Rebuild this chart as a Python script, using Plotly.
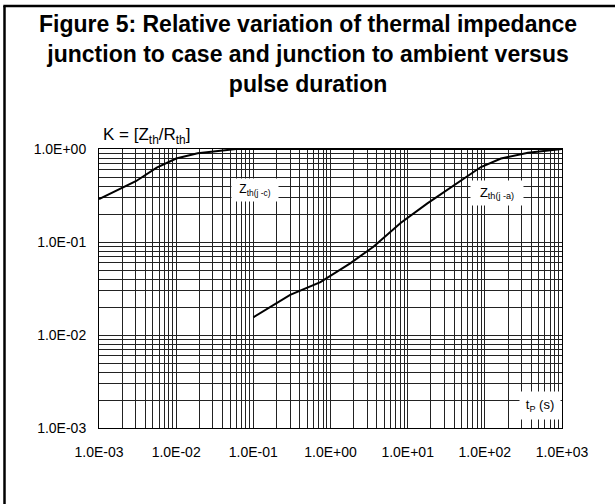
import plotly.graph_objects as go

# ---- data ----
jc_t = [1e-3, 1.7e-3, 3e-3, 5.6e-3, 1.0e-2, 1.9e-2, 4e-2, 6e-2, 1e3]
jc_k = [0.29, 0.36, 0.45, 0.63, 0.79, 0.90, 0.975, 1.0, 1.0]

ja_t = [0.1, 0.3, 0.74, 1.8, 3.6, 8.1, 18, 40, 89, 162, 363, 1000]
ja_k = [0.0155, 0.027, 0.037, 0.059, 0.089, 0.16, 0.26, 0.41, 0.64, 0.79, 0.91, 1.0]

x_tickvals = [1e-3, 1e-2, 1e-1, 1e0, 1e1, 1e2, 1e3]
x_ticktext = ["1.0E-03", "1.0E-02", "1.0E-01", "1.0E+00", "1.0E+01", "1.0E+02", "1.0E+03"]
y_tickvals = [1e-3, 1e-2, 1e-1, 1e0]
y_ticktext = ["1.0E-03", "1.0E-02", "1.0E-01", "1.0E+00"]

title_lines = ["Figure 5: Relative variation of thermal impedance",
               "junction to case and junction to ambient versus",
               "pulse duration"]

FONT = "Liberation Sans, Arial, sans-serif"
GRID = "#222222"

fig = go.Figure()
fig.add_trace(go.Scatter(x=jc_t, y=jc_k, mode="lines",
                         line=dict(color="black", width=2), showlegend=False))
fig.add_trace(go.Scatter(x=ja_t, y=ja_k, mode="lines",
                         line=dict(color="black", width=2), showlegend=False))

axis_common = dict(
    type="log", showline=True, linecolor="black", linewidth=1, mirror=True,
    showgrid=True, gridcolor=GRID, gridwidth=1, ticks="", zeroline=False,
    tickfont=dict(family=FONT, size=14, color="black"),
    minor=dict(showgrid=True, gridcolor=GRID, gridwidth=1, dtick="D1", ticks=""),
)
fig.update_xaxes(range=[-3, 3], tickvals=x_tickvals, ticktext=x_ticktext,
                 ticklabelstandoff=11, **axis_common)
fig.update_yaxes(range=[-3, 0], tickvals=y_tickvals, ticktext=y_ticktext,
                 ticklabelstandoff=9, **axis_common)

W, H = 615, 504
L, R, T, B = 99, 53, 149, 76
pw, ph = W - L - R, H - T - B

def px(xp):
    return (xp - L) / pw

def py(yp):
    return (H - B - yp) / ph

# outer frame (left and top edges)
fig.add_shape(type="line", xref="paper", yref="paper",
              x0=px(4.5), x1=px(4.5), y0=py(6), y1=py(H + 5),
              line=dict(color="black", width=2.5))
fig.add_shape(type="line", xref="paper", yref="paper",
              x0=px(3.3), x1=px(W + 5), y0=py(6), y1=py(6),
              line=dict(color="black", width=2.5))

# title
fig.add_annotation(xref="paper", yref="paper", x=px(308), y=py(9),
                   xanchor="center", yanchor="top", showarrow=False,
                   text="<b>" + "<br>".join(title_lines) + "</b>",
                   font=dict(family=FONT, size=23, color="black"), align="center")

# y-axis label
fig.add_annotation(xref="paper", yref="paper", x=px(101), y=py(136),
                   xanchor="left", yanchor="middle", showarrow=False,
                   text="K = [Z<sub>th</sub>/R<sub>th</sub>]",
                   font=dict(family=FONT, size=17, color="black"))

# curve labels (white boxes)
fig.add_annotation(x=-0.978, y=-0.44, showarrow=False,
                   text="Z<sub>th(j -c)</sub>", bgcolor="white", width=44, height=20,
                   font=dict(family=FONT, size=12, color="black"))
fig.add_annotation(x=2.157, y=-0.473, showarrow=False,
                   text="Z<sub>th(j -a)</sub>", bgcolor="white", width=50, height=22,
                   font=dict(family=FONT, size=13, color="black"))
fig.add_annotation(x=2.72, y=-2.753, showarrow=False,
                   text="t<sub>P</sub> (s)", bgcolor="white", width=38, height=25,
                   font=dict(family=FONT, size=13, color="black"))

fig.update_layout(
    width=W, height=H, margin=dict(l=L, r=R, t=T, b=B),
    paper_bgcolor="white", plot_bgcolor="white",
    font=dict(family=FONT, color="black"),
)

fig.write_html("out.html", config={"displayModeBar": False},
               post_script="document.body.style.margin='0px';document.body.style.padding='0px';")
